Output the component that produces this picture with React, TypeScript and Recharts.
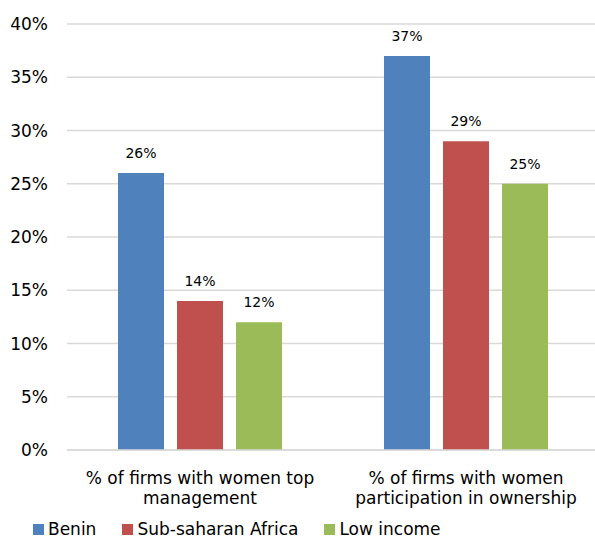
import { BarChart, Bar, XAxis, YAxis, CartesianGrid, Legend, LabelList } from "recharts"

const categories = [
	["% of firms with women top", "management"],
	["% of firms with women", "participation in ownership"],
]
const benin = [26, 37]
const subSaharan = [14, 29]
const lowIncome = [12, 25]
const yTicks = [0, 5, 10, 15, 20, 25, 30, 35, 40]
const seriesOrder = ["Benin", "Sub-saharan Africa", "Low income"]

const data = categories.map((c, i) => ({
	name: c.join("\n"),
	benin: benin[i],
	ssa: subSaharan[i],
	low: lowIncome[i],
}))

const font = "'DejaVu Sans', sans-serif"

function CategoryTick(props: any) {
	const { x, y, payload } = props
	const lines = String(payload.value).split("\n")
	return (
		<text x={x} y={y} textAnchor="middle" fontFamily={font} fontSize={17} fill="#000">
			{lines.map((l, i) => (
				<tspan key={i} x={x} dy={i === 0 ? 26 : 20}>
					{l}
				</tspan>
			))}
		</text>
	)
}

function LegendBox(props: any) {
	const payload = [...(props.payload || [])].sort(
		(a: any, b: any) => seriesOrder.indexOf(a.value) - seriesOrder.indexOf(b.value)
	)
	return (
		<div style={{ display: "flex", alignItems: "center", height: 18, lineHeight: "18px", paddingLeft: 33, fontFamily: font, fontSize: 17 }}>
			{payload.map((p: any) => (
				<div key={p.value} style={{ display: "flex", alignItems: "center", marginRight: 26 }}>
					<span style={{ width: 11, height: 11, background: p.color, marginRight: 4, display: "inline-block" }} />
					<span>{p.value}</span>
				</div>
			))}
		</div>
	)
}

const labelStyle = { fontFamily: font, fontSize: 14, fill: "#000" }

export default function App() {
	return (
		<div style={{ position: "absolute", left: 0, top: 0, width: 595, height: 538, background: "#fff", overflow: "hidden" }}>
			<BarChart
				width={595}
				height={538}
				data={data}
				margin={{ top: 24, right: -4, bottom: 0, left: 0 }}
				barGap={13}
				barSize={46}
			>
				<CartesianGrid vertical={false} stroke="#d9d9d9" strokeWidth={1.5} />
				<XAxis
					dataKey="name"
					height={70}
					tickLine={false}
					axisLine={{ stroke: "#d9d9d9", strokeWidth: 1.5 }}
					tick={<CategoryTick />}
					interval={0}
				/>
				<YAxis
					width={67}
					domain={[0, 40]}
					ticks={yTicks}
					tickFormatter={(v) => `${v}%`}
					axisLine={false}
					tickLine={false}
					tickSize={0}
					tickMargin={19}
					tick={{ fontFamily: font, fontSize: 17, fill: "#000" }}
				/>
				<Legend verticalAlign="bottom" content={<LegendBox />} />
				<Bar dataKey="benin" name="Benin" fill="#4f81bd" isAnimationActive={false}>
					<LabelList dataKey="benin" position="top" offset={15} formatter={(v: any) => `${v}%`} style={labelStyle} />
				</Bar>
				<Bar dataKey="ssa" name="Sub-saharan Africa" fill="#c0504d" isAnimationActive={false}>
					<LabelList dataKey="ssa" position="top" offset={15} formatter={(v: any) => `${v}%`} style={labelStyle} />
				</Bar>
				<Bar dataKey="low" name="Low income" fill="#9bbb59" isAnimationActive={false}>
					<LabelList dataKey="low" position="top" offset={15} formatter={(v: any) => `${v}%`} style={labelStyle} />
				</Bar>
			</BarChart>
		</div>
	)
}
